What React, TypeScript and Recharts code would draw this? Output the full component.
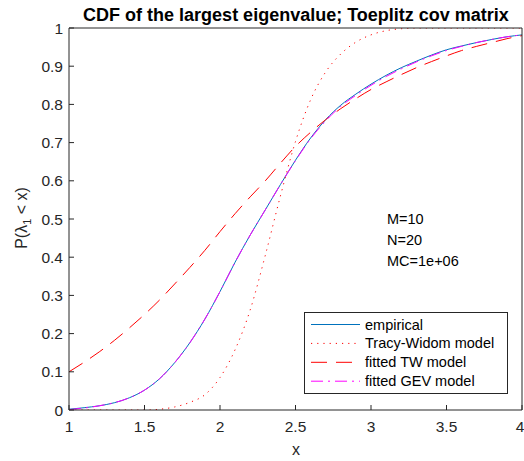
import { LineChart, Line, XAxis, YAxis, Customized } from "recharts";

// x grid shared by all curves
const xValues = [
  1.0, 1.1, 1.2, 1.3, 1.4, 1.5, 1.6, 1.7, 1.8, 1.9, 2.0, 2.1, 2.2, 2.3, 2.4, 2.5,
  2.6, 2.7, 2.8, 2.9, 3.0, 3.1, 3.2, 3.3, 3.4, 3.5, 3.6, 3.7, 3.8, 3.9, 4.0,
];

const empirical = [
  0.002, 0.006, 0.011, 0.019, 0.032, 0.052, 0.082, 0.124, 0.176, 0.238, 0.31, 0.387,
  0.458, 0.524, 0.59, 0.654, 0.712, 0.76, 0.798, 0.827, 0.853, 0.876, 0.896, 0.913,
  0.929, 0.943, 0.953, 0.962, 0.97, 0.977, 0.982,
];

const tracyWidom = [
  0, 0, 0, 0, 0, 0, 0.002, 0.008, 0.02, 0.04, 0.085, 0.158, 0.262, 0.405, 0.56,
  0.703, 0.812, 0.885, 0.932, 0.963, 0.982, 0.993, 0.998, 1, 1, 1, 1, 1, 1, 1, 1,
];

const fittedTW = [
  0.1, 0.125, 0.152, 0.182, 0.215, 0.25, 0.288, 0.33, 0.373, 0.418, 0.467, 0.514,
  0.558, 0.6, 0.646, 0.69, 0.727, 0.76, 0.789, 0.815, 0.839, 0.859, 0.878, 0.896,
  0.912, 0.927, 0.941, 0.952, 0.962, 0.972, 0.98,
];

const fittedGEV = [
  0.001, 0.005, 0.011, 0.019, 0.032, 0.052, 0.082, 0.124, 0.176, 0.238, 0.31, 0.387,
  0.458, 0.524, 0.59, 0.653, 0.71, 0.757, 0.795, 0.824, 0.85, 0.873, 0.893, 0.911,
  0.927, 0.941, 0.952, 0.962, 0.97, 0.977, 0.982,
];

const xTicks = [1, 1.5, 2, 2.5, 3, 3.5, 4];
const yTicks = [0, 0.1, 0.2, 0.3, 0.4, 0.5, 0.6, 0.7, 0.8, 0.9, 1];

const data = xValues.map((x, i) => ({
  x,
  empirical: empirical[i],
  tracyWidom: tracyWidom[i],
  fittedTW: fittedTW[i],
  fittedGEV: fittedGEV[i],
}));

const FONT = '"Liberation Sans", Arial, Helvetica, sans-serif';
const AXIS = "#262626";
const BLUE = "#0072BD";
const RED = "#FF0000";
const MAGENTA = "#FF00FF";

const DOTTED = "1.2 5";
const DASHED = "16 9";
const DASHDOT = "12 5 2 5";

const legendItems = [
  { label: "empirical", color: BLUE, dash: undefined },
  { label: "Tracy-Widom model", color: RED, dash: DOTTED },
  { label: "fitted TW model", color: RED, dash: DASHED },
  { label: "fitted GEV model", color: MAGENTA, dash: DASHDOT },
];

// legend box drawn inside the plot, lower right
function LegendBox() {
  return (
    <g transform="translate(304,312)" fontFamily={FONT}>
      <rect x={0.5} y={0.5} width={203} height={81} fill="#fff" stroke={AXIS} />
      {legendItems.map((it, i) => {
        const cy = 12.5 + i * 18.9;
        return (
          <g key={it.label}>
            <line
              x1={7}
              x2={56}
              y1={cy}
              y2={cy}
              stroke={it.color}
              strokeWidth={1}
              strokeDasharray={it.dash}
            />
            <text x={61} y={cy + 5} fontSize={14.5} fill="#000">
              {it.label}
            </text>
          </g>
        );
      })}
    </g>
  );
}

function Annotations() {
  return (
    <g fontFamily={FONT}>
      <text x={296} y={21} textAnchor="middle" fontSize={18} fontWeight="bold" fill="#000">
        CDF of the largest eigenvalue; Toeplitz cov matrix
      </text>
      <text x={296} y={455} textAnchor="middle" fontSize={16} fill={AXIS}>
        x
      </text>
      <text transform="translate(27,218) rotate(-90)" textAnchor="middle" fontSize={16} fill={AXIS}>
        P(λ
        <tspan fontSize={11} dy={4}>
          1
        </tspan>
        <tspan dy={-4}> &lt; x)</tspan>
      </text>
      <g fontSize={14.5} fill="#000">
        <text x={387} y={224}>M=10</text>
        <text x={387} y={245}>N=20</text>
        <text x={387} y={266}>MC=1e+06</text>
      </g>
      <LegendBox />
    </g>
  );
}

const tickStyle = { fontSize: 15.5, fill: AXIS, fontFamily: FONT };

export default function App() {
  return (
    <div style={{ position: "absolute", left: 0, top: 0, background: "#fff" }}>
      <LineChart
        width={524}
        height={461}
        data={data}
        margin={{ top: 27, right: 1, bottom: 0, left: 0 }}
      >
        <XAxis
          dataKey="x"
          type="number"
          domain={[1, 4]}
          ticks={xTicks}
          height={51}
          stroke={AXIS}
          tickSize={-5}
          tickMargin={16}
          tick={tickStyle}
          allowDataOverflow
        />
        <XAxis
          xAxisId="top"
          dataKey="x"
          type="number"
          orientation="top"
          domain={[1, 4]}
          ticks={xTicks}
          height={1}
          stroke={AXIS}
          tickSize={-5}
          tick={false}
        />
        <YAxis
          type="number"
          domain={[0, 1]}
          ticks={yTicks}
          width={69}
          stroke={AXIS}
          tickSize={-5}
          tickMargin={11}
          tick={tickStyle}
          allowDataOverflow
        />
        <YAxis
          yAxisId="right"
          type="number"
          orientation="right"
          domain={[0, 1]}
          ticks={yTicks}
          width={1}
          stroke={AXIS}
          tickSize={-5}
          tick={false}
        />
        <Line
          dataKey="empirical"
          type="monotone"
          stroke={BLUE}
          strokeWidth={1}
          dot={false}
          isAnimationActive={false}
        />
        <Line
          dataKey="tracyWidom"
          type="monotone"
          stroke={RED}
          strokeWidth={1}
          strokeDasharray={DOTTED}
          dot={false}
          isAnimationActive={false}
        />
        <Line
          dataKey="fittedTW"
          type="monotone"
          stroke={RED}
          strokeWidth={1}
          strokeDasharray={DASHED}
          dot={false}
          isAnimationActive={false}
        />
        <Line
          dataKey="fittedGEV"
          type="monotone"
          stroke={MAGENTA}
          strokeWidth={1}
          strokeDasharray={DASHDOT}
          dot={false}
          isAnimationActive={false}
        />
        <Customized component={<Annotations />} />
      </LineChart>
    </div>
  );
}
